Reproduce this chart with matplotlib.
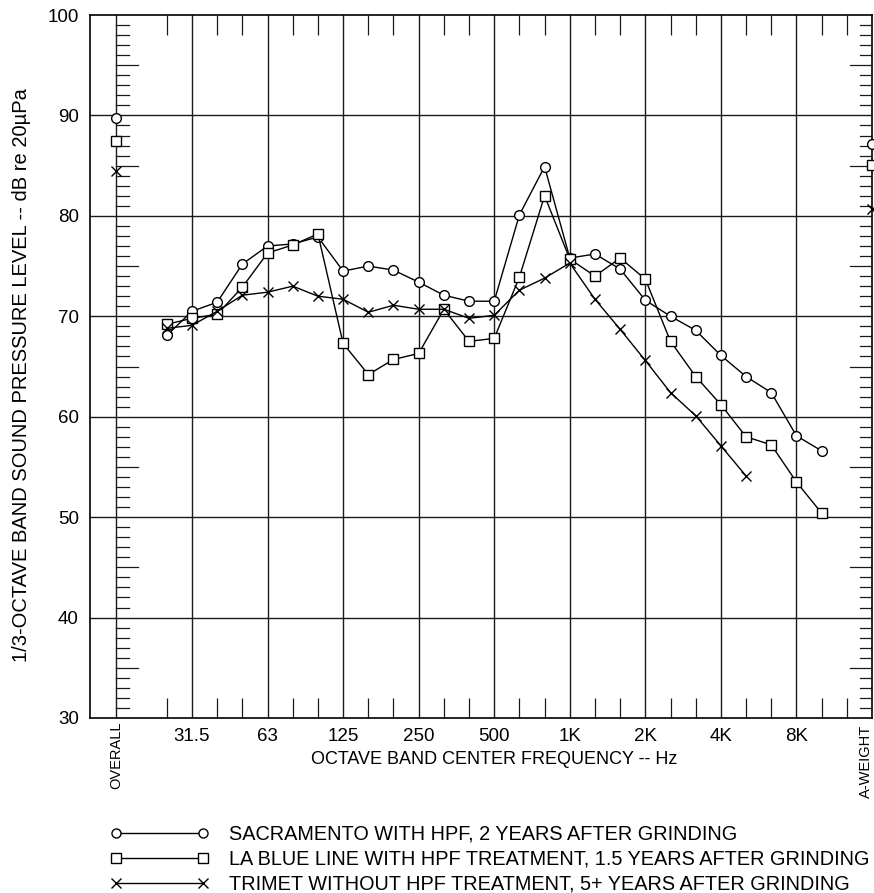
import numpy as np
import matplotlib
matplotlib.use("Agg")
import matplotlib.pyplot as plt
from matplotlib.lines import Line2D

plt.rcParams['font.family'] = ['Liberation Sans', 'DejaVu Sans']

# 1/3-octave band centres (index 0 = 25 Hz)
bande = ['25', '31.5', '40', '50', '63', '80', '100', '125', '160', '200', '250', '315',
         '400', '500', '630', '800', '1K', '1.25K', '1.6K', '2K', '2.5K', '3.15K', '4K',
         '5K', '6.3K', '8K', '10K']

# Livelli per banda (dB re 20 uPa)
sacramento = [68.1, 70.5, 71.4, 75.2, 77.0, 77.2, 77.9, 74.5, 75.0, 74.6, 73.4, 72.1,
              71.5, 71.5, 80.1, 84.9, 75.8, 76.2, 74.7, 71.6, 70.0, 68.6, 66.1,
              64.0, 62.4, 58.1, 56.6]
la_blue = [69.2, 69.8, 70.2, 72.9, 76.3, 77.1, 78.2, 67.3, 64.2, 65.7, 66.3, 70.7,
           67.5, 67.8, 73.9, 82.0, 75.7, 74.0, 75.8, 73.7, 67.5, 64.0, 61.2,
           58.0, 57.2, 53.5, 50.4]
trimet = [68.8, 69.1, 70.5, 72.1, 72.4, 73.0, 72.0, 71.7, 70.4, 71.1, 70.7, 70.7,
          69.8, 70.1, 72.6, 73.8, 75.3, 71.7, 68.7, 65.6, 62.4, 60.1, 57.1, 54.1]

# Livelli complessivi e pesati A
overall = [89.7, 87.5, 84.5]
a_weight = [87.2, 85.1, 80.7]

etichette = ['SACRAMENTO WITH HPF, 2 YEARS AFTER GRINDING',
             'LA BLUE LINE WITH HPF TREATMENT, 1.5 YEARS AFTER GRINDING',
             'TRIMET WITHOUT HPF TREATMENT, 5+ YEARS AFTER GRINDING']
marker = ['o', 's', 'x']

# Posizioni: indice di banda, OVERALL a -2, A-WEIGHT a 28
x_overall = -2
x_aweight = 28
ottave = [1, 4, 7, 10, 13, 16, 19, 22, 25]
ottave_lab = ['31.5', '63', '125', '250', '500', '1K', '2K', '4K', '8K']

fig = plt.figure(figsize=(8.74, 8.93), dpi=100)
ax = fig.add_axes([90 / 874, 1 - 718 / 893, 782 / 874, 703 / 893])
ax.set_xlim(-3.05, 28)
ax.set_ylim(30, 100)

# griglia
for yy in range(40, 100, 10):
    ax.axhline(yy, color='#1a1a1a', lw=1.0, zorder=1)
for xx in ottave:
    ax.axvline(xx, color='#1a1a1a', lw=1.0, zorder=1)
ax.axvline(x_overall, color='#1a1a1a', lw=1.0, zorder=1)

# tacche da 1 dB su OVERALL e A-WEIGHT
for db in range(31, 100):
    if db % 10 == 0:
        continue
    lung = 0.87 if db % 5 == 0 else 0.48
    ax.plot([x_overall, x_overall + lung], [db, db], color='#1a1a1a', lw=0.9, zorder=1)
    ax.plot([x_aweight - lung, x_aweight], [db, db], color='#1a1a1a', lw=0.9, zorder=1)

serie = [sacramento, la_blue, trimet]
for dati, m, lab, ov, aw in zip(serie, marker, etichette, overall, a_weight):
    xs = np.arange(len(dati))
    ms = 7.8 if m == 'x' else 7.0
    ax.plot(xs, dati, color='black', lw=1.0, marker=m, ms=ms, mfc='white', mec='black',
            mew=1.0, zorder=3)
    ax.plot([x_overall], [ov], ls='none', marker=m, ms=ms, mfc='white', mec='black',
            mew=1.0, zorder=3, clip_on=False)
    ax.plot([x_aweight], [aw], ls='none', marker=m, ms=ms, mfc='white', mec='black',
            mew=1.0, zorder=3, clip_on=False)

# assi
ax.set_yticks(range(30, 101, 10))
ax.tick_params(axis='y', length=0, pad=8, labelsize=13.5)
terzi = [i for i in range(0, 28) if i not in ottave]
ax.set_xticks(ottave)
ax.set_xticklabels(ottave_lab)
ax.set_xticks(terzi, minor=True)
ax.tick_params(axis='x', which='major', length=0, pad=7, labelsize=13.5)
ax.tick_params(axis='x', which='minor', length=14.4, direction='in', top=True,
               bottom=True, width=0.9, color='#1a1a1a')
for s in ax.spines.values():
    s.set_linewidth(1.2)

ax.text(x_overall, 29.7, 'OVERALL', rotation=90, ha='center', va='top', fontsize=10.5)
ax.text(x_aweight + 0.02, 29.3, 'A-WEIGHT', rotation=90, ha='right', va='top', fontsize=10.5)

fig.text(494 / 874, 1 - 760 / 893, 'OCTAVE BAND CENTER FREQUENCY -- Hz',
         ha='center', va='center', fontsize=13)
fig.text(22 / 874, 1 - 375 / 893, '1/3-OCTAVE BAND SOUND PRESSURE LEVEL -- dB re 20µPa',
         ha='center', va='center', rotation=90, fontsize=14.5)

# legenda
maniglie = [Line2D([], [], color='black', lw=1.0, marker=m, ms=6.5, mfc='white',
                   mec='black', mew=1.0) for m in marker]
fig.legend(maniglie, etichette, loc='upper left', bbox_to_anchor=(110 / 874, 1 - 825 / 893),
           frameon=False, handlelength=5.0, handletextpad=1.0, labelspacing=0.3,
           borderpad=0, borderaxespad=0, numpoints=2, fontsize=14.3)

fig.savefig('out.png', dpi=100, facecolor='white')
